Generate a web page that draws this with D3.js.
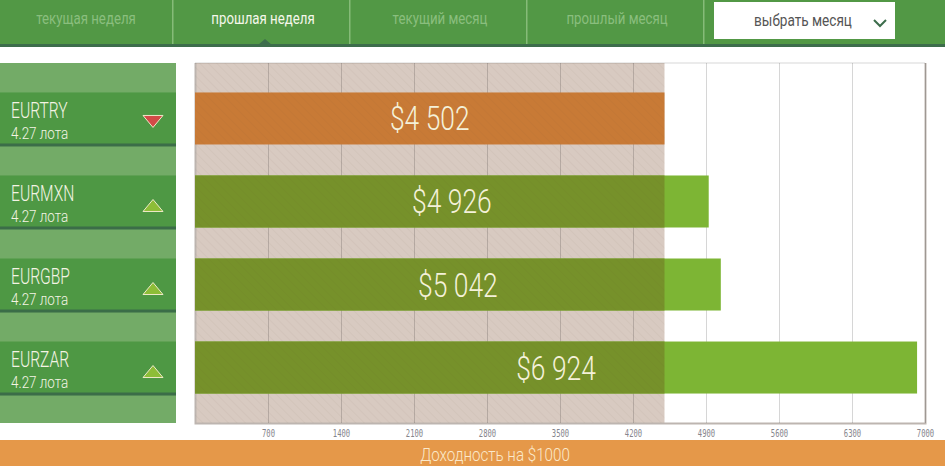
<!DOCTYPE html>
<html>
<head>
<meta charset="utf-8">
<style>
body { margin: 0; background: #fff; }
svg { display: block; font-family: Roboto, "DejaVu Sans Condensed", sans-serif; }
</style>
<script src="https://cdnjs.cloudflare.com/ajax/libs/d3/7.8.5/d3.min.js"></script>
</head>
<body>
<svg id="chart" width="945" height="466"></svg>
<script>
// data
var pairs = ["EURTRY", "EURMXN", "EURGBP", "EURZAR"];
var values = [4502, 4926, 5042, 6924];
var lots = ["4.27 лота", "4.27 лота", "4.27 лота", "4.27 лота"];
var trend = ["down", "up", "up", "up"];
var baseline = 4502;
var tickValues = [700, 1400, 2100, 2800, 3500, 4200, 4900, 5600, 6300, 7000];
var tabs = ["текущая неделя", "прошлая неделя", "текущий месяц", "прошлый месяц"];
var activeTab = 1;
var footer = "Доходность на $1000";

var svg = d3.select("#chart");
var chartTop = 63, chartBottom = 423;

var x = d3.scaleLinear().domain([0, 7000]).range([195, 925]);
var y = d3.scaleBand().domain(pairs).range([62, 424]).paddingInner(0.3735).paddingOuter(0.367);

function money(v) {
  return "$" + d3.format(",")(v).replace(/,/g, " ");
}

// narrow text: the original font is a condensed one, so squeeze horizontally
function label(parent, px, py, str, size, color, sx, anchor, weight) {
  return parent.append("text")
    .attr("transform", "translate(" + px + "," + py + ") scale(" + sx + ",1)")
    .attr("text-anchor", anchor || "start")
    .attr("font-size", size)
    .attr("font-weight", weight || 300)
    .attr("fill", color)
    .text(str);
}

// hatch
var defs = svg.append("defs");
var pat = defs.append("pattern")
  .attr("id", "hatch")
  .attr("width", 6).attr("height", 6)
  .attr("patternUnits", "userSpaceOnUse")
  .attr("patternTransform", "rotate(-45)");
pat.append("rect").attr("width", 1).attr("height", 6).attr("fill", "rgba(90,60,40,0.045)");

// nav
svg.append("rect").attr("x", 0).attr("y", 0).attr("width", 945).attr("height", 44).attr("fill", "#529845");
svg.append("rect").attr("x", 0).attr("y", 44).attr("width", 945).attr("height", 3).attr("fill", "#3d6d4c");
var tabW = 177;
tabs.forEach(function(t, i) {
  label(svg, i * tabW + 86, 24, t, 17, i === activeTab ? "#f5f7ea" : "#8abe7e", 0.78, "middle", 400);
  svg.append("rect").attr("x", (i + 1) * tabW - 5).attr("y", 0).attr("width", 1.5).attr("height", 44).attr("fill", "#86bb78");
});
svg.append("path")
  .attr("d", "M" + (activeTab * tabW + 81) + ",45 l7,-6 l7,6 z")
  .attr("fill", "#3d6d4c");
svg.append("rect").attr("x", 714).attr("y", 2).attr("width", 181).attr("height", 37).attr("fill", "#fff");
label(svg, 803, 26, "выбрать месяц", 17, "#555", 0.8, "middle", 400);
svg.append("path").attr("d", "M874,20 l6,6 l6,-6").attr("fill", "none")
  .attr("stroke", "#3d6d4c").attr("stroke-width", 2);

// left panel
svg.append("rect").attr("x", 0).attr("y", chartTop).attr("width", 176).attr("height", chartBottom - chartTop).attr("fill", "#73ab67");
var rows = svg.append("g").selectAll("g").data(pairs).join("g")
  .attr("transform", function(d) { return "translate(0," + y(d) + ")"; });
rows.append("rect").attr("width", 176).attr("height", y.bandwidth()).attr("fill", "#4e9844");
rows.append("rect").attr("y", y.bandwidth() - 1).attr("width", 176).attr("height", 3).attr("fill", "#3b6d48");
rows.each(function(d, i) {
  var g = d3.select(this);
  label(g, 11, 25.5, d, 22, "#f4f4e4", 0.71);
  label(g, 11, 46.5, lots[i], 17, "#f4f4e4", 0.79);
});
rows.append("path")
  .attr("d", function(d, i) {
    return trend[i] === "down" ? "M143,23 l20,0 l-10,12 z" : "M143,36 l20,0 l-10,-12 z";
  })
  .attr("fill", function(d, i) { return trend[i] === "down" ? "#d24a47" : "#8dbd37"; })
  .attr("stroke", "#eee9c8").attr("stroke-width", 1);

// chart zone
svg.append("rect").attr("x", x(0)).attr("y", chartTop).attr("width", x(baseline) - x(0)).attr("height", chartBottom - chartTop).attr("fill", "#d8cac1");

var axis = d3.axisBottom(x).tickValues(tickValues).tickSize(-(chartBottom - chartTop)).tickFormat(d3.format("d"));
var ax = svg.append("g").attr("transform", "translate(0," + chartBottom + ")").call(axis);
ax.select(".domain").attr("stroke", "#bdb5b0").attr("stroke-width", 2);
ax.selectAll(".tick line").attr("stroke", "rgba(0,0,0,0.16)");
ax.selectAll(".tick text")
  .attr("dy", 0).attr("y", 0)
  .attr("transform", "translate(0,14) scale(0.72,1)")
  .attr("font-family", "DejaVu Sans Mono, monospace")
  .attr("font-size", 10).attr("fill", "#85858c");
svg.append("line").attr("x1", x(0)).attr("x2", x(7000)).attr("y1", chartTop).attr("y2", chartTop)
  .attr("stroke", "rgba(0,0,0,0.16)");

// bars
var bars = svg.append("g").selectAll("g").data(pairs).join("g");
bars.append("rect")
  .attr("x", x(0)).attr("y", function(d) { return y(d); })
  .attr("height", y.bandwidth())
  .attr("width", function(d, i) { return x(values[i]) - x(0); })
  .attr("fill", function(d, i) { return trend[i] === "down" ? "#c87a36" : "#7db534"; });
bars.filter(function(d, i) { return trend[i] !== "down"; }).append("rect")
  .attr("x", x(0)).attr("y", function(d) { return y(d); })
  .attr("height", y.bandwidth())
  .attr("width", function(d) { return x(Math.min(values[pairs.indexOf(d)], baseline)) - x(0); })
  .attr("fill", "#76912a");

svg.append("rect").attr("x", x(0)).attr("y", chartTop).attr("width", x(baseline) - x(0)).attr("height", chartBottom - chartTop).attr("fill", "url(#hatch)");

bars.each(function(d, i) {
  label(d3.select(this), (x(0) + x(values[i])) / 2, y(d) + y.bandwidth() / 2 + 12,
    money(values[i]), 33, "#f5f2da", 0.8, "middle");
});

// footer
svg.append("rect").attr("x", 0).attr("y", 440).attr("width", 945).attr("height", 26).attr("fill", "#e59849");
label(svg, 495, 461, footer, 19, "#fbe9cb", 0.8, "middle");
</script>
</body>
</html>
